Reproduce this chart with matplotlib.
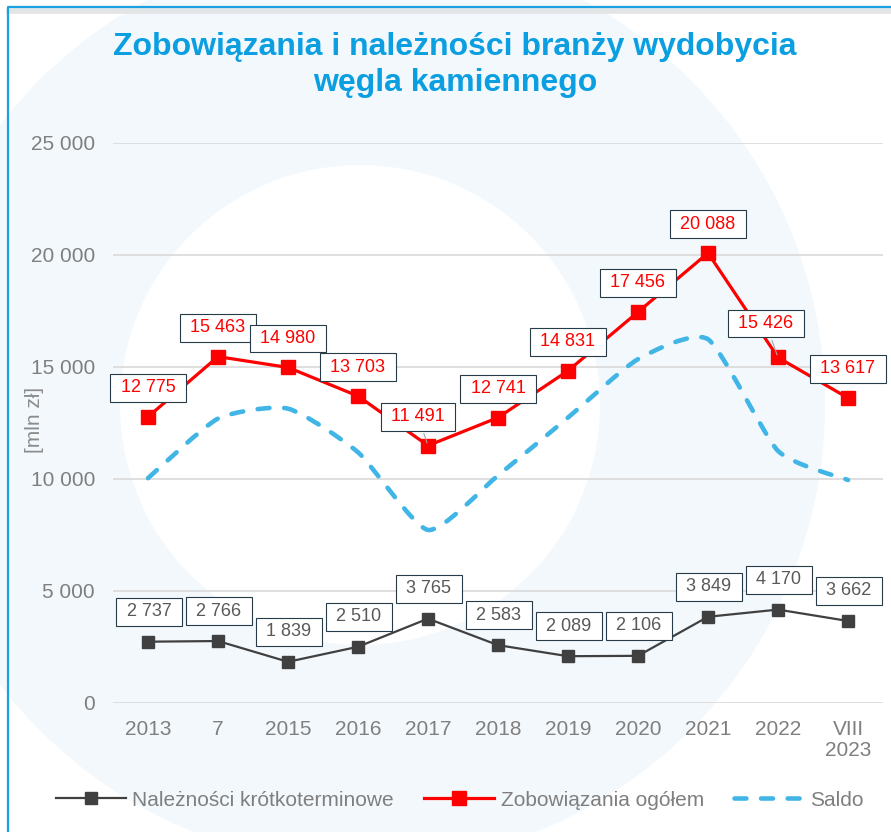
import matplotlib
matplotlib.use('Agg')
import matplotlib.pyplot as plt
from matplotlib.patches import Ellipse, PathPatch
from matplotlib.path import Path
from matplotlib.lines import Line2D
import numpy as np

plt.rcParams['font.family'] = ['Liberation Sans', 'DejaVu Sans']

# dane (mln zł)
lata = ['2013', '7', '2015', '2016', '2017', '2018', '2019', '2020', '2021', '2022', 'VIII\n2023']
naleznosci = [2737, 2766, 1839, 2510, 3765, 2583, 2089, 2106, 3849, 4170, 3662]
zobowiazania = [12775, 15463, 14980, 13703, 11491, 12741, 14831, 17456, 20088, 15426, 13617]
saldo = [10038, 12697, 13141, 11193, 7726, 10158, 12742, 15350, 16239, 11256, 9955]

RED = '#ff0000'
DARK = '#404040'
BLUE = '#41b6e6'
TXT = '#7f7f7f'


def fmt(v):
    return ' ' + f'{v:,}'.replace(',', ' ') + ' '


fig = plt.figure(figsize=(8.91, 8.32), dpi=100)
fig.patch.set_facecolor('white')

# tlo - kola
fig.add_artist(Ellipse((365 / 891, 427 / 832), 920 / 891, 920 / 832, transform=fig.transFigure,
                       facecolor='#f3f8fc', edgecolor='none', zorder=-10))
fig.add_artist(Ellipse((360 / 891, 427 / 832), 480 / 891, 480 / 832, transform=fig.transFigure,
                       facecolor='white', edgecolor='none', zorder=-9))
# ramka
fig.add_artist(Line2D([9 / 891, 1], [1 - 11 / 832, 1 - 11 / 832], transform=fig.transFigure,
                      color='#e2e4e6', lw=4, zorder=-8))
fig.add_artist(Line2D([8 / 891, 8 / 891, 1], [0, 1 - 7 / 832, 1 - 7 / 832], transform=fig.transFigure,
                      color='#1ba1e2', lw=1.6, zorder=-7))

ax = fig.add_axes([113 / 891, 129 / 832, 770 / 891, 560 / 832])
ax.set_facecolor('none')
x = np.arange(len(lata))

ax.set_xlim(-0.5, len(lata) - 0.5)
ax.set_ylim(0, 25000)
ax.set_yticks(range(0, 25001, 5000))
ax.set_yticklabels([f'{v:,}'.replace(',', ' ') for v in range(0, 25001, 5000)])
ax.set_xticks(x)
ax.set_xticklabels(lata, linespacing=1.15)
ax.tick_params(axis='both', length=0, labelsize=15, labelcolor=TXT)
ax.tick_params(axis='y', pad=13)
ax.tick_params(axis='x', pad=12)
for s in ax.spines.values():
    s.set_visible(False)
ax.grid(axis='y', color='#dcdcdc', lw=1.3)
ax.set_axisbelow(True)
ax.set_ylabel('[mln zł]', fontsize=15, color='#8c8c8c')
ax.yaxis.set_label_coords(-0.09, 0.505)

# saldo - linia wygladzona
pts = np.column_stack([x, saldo]).astype(float)
verts = [pts[0]]
codes = [Path.MOVETO]
for i in range(len(pts) - 1):
    p0 = pts[max(i - 1, 0)]
    p1 = pts[i]
    p2 = pts[i + 1]
    p3 = pts[min(i + 2, len(pts) - 1)]
    c1 = p1 + (p2 - p0) / 10
    c2 = p2 - (p3 - p1) / 10
    verts += [c1, c2, p2]
    codes += [Path.CURVE4] * 3
ax.add_patch(PathPatch(Path(verts, codes), facecolor='none', edgecolor=BLUE, lw=3.3,
                       linestyle=(0, (2.6, 3.2)), capstyle='round', zorder=2))

ax.plot(x, zobowiazania, color=RED, lw=2.3, marker='s', markersize=10, zorder=3)
ax.plot(x, naleznosci, color=DARK, lw=1.6, marker='s', markersize=9, zorder=3)

box = dict(boxstyle='square,pad=0.3', facecolor='white', edgecolor='#263b47', lw=0.8)

off_red = {4: (-10, 29), 9: (-12, 34)}
for i, v in enumerate(zobowiazania):
    dx, dy = off_red.get(i, (0, 29))
    arrow = dict(arrowstyle='-', color='#a6a6a6', lw=0.8) if i in off_red else None
    ax.annotate(fmt(v), (x[i], v), xytext=(dx, dy), textcoords='offset pixels',
                ha='center', va='center', fontsize=13, color=RED, bbox=box,
                arrowprops=arrow, zorder=5)

for i, v in enumerate(naleznosci):
    ax.annotate(fmt(v), (x[i], v), xytext=(1, 30), textcoords='offset pixels',
                ha='center', va='center', fontsize=13, color='#595959', bbox=box, zorder=5)

fig.text(455 / 891, 1 - 65 / 832, 'Zobowiązania i należności branży wydobycia\nwęgla kamiennego',
         ha='center', va='center', fontsize=23, fontweight='bold', color='#0b9fe2', linespacing=1.27)

handles = [
    Line2D([], [], color=DARK, lw=1.6, marker='s', markersize=9),
    Line2D([], [], color=RED, lw=2.3, marker='s', markersize=10),
    Line2D([], [], color=BLUE, lw=3.3, linestyle=(0, (2.6, 3.2)), dash_capstyle='round'),
]
fig.legend(handles, ['Należności krótkoterminowe', 'Zobowiązania ogółem', 'Saldo'],
           loc='center', bbox_to_anchor=(460 / 891, 32 / 832), ncol=3, frameon=False,
           fontsize=15, labelcolor=TXT, handlelength=3.36, handletextpad=0.3, columnspacing=1.45)

fig.savefig('out.png', dpi=100)
